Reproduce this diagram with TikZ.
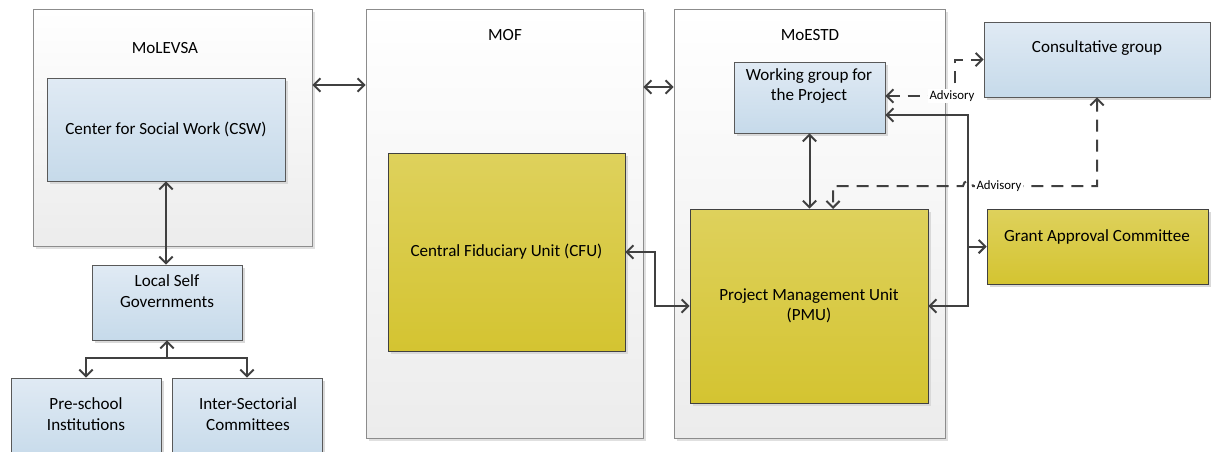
\documentclass[tikz,border=0pt]{standalone}
\usepackage{fontspec}
\setmainfont{Carlito}
\usetikzlibrary{arrows.meta,shadows,calc}
\definecolor{blueTop}{HTML}{E0EAF4}
\definecolor{blueBot}{HTML}{C6DAEA}
\definecolor{yelTop}{HTML}{DED15C}
\definecolor{yelBot}{HTML}{D4C431}
\definecolor{orgBot}{HTML}{ECECEC}
\definecolor{lineGray}{HTML}{404040}
\begin{document}
\begin{tikzpicture}[x=0.75pt,y=0.75pt,yscale=-1,xscale=1,
  every node/.style={font=\fontsize{12.8}{15.2}\selectfont},
  org/.style={draw=black!45, top color=white, bottom color=orgBot, inner sep=0pt,
    general shadow={fill=black!12, shadow xshift=2pt, shadow yshift=-2pt}},
  unit/.style={draw=black!65, top color=blueTop, bottom color=blueBot, inner sep=0pt, align=center,
    general shadow={fill=black!15, shadow xshift=2.2pt, shadow yshift=-2.2pt}},
  fund/.style={draw=black!75, top color=yelTop, bottom color=yelBot, inner sep=0pt, align=center,
    general shadow={fill=black!15, shadow xshift=2.2pt, shadow yshift=-2.2pt}},
  txt/.style={inner sep=0pt, align=center},
  link/.style={draw=lineGray, line width=1.5pt, arrows={-}, >={Straight Barb[length=5pt,width=10pt]}},
  adv/.style={link, dash pattern=on 9pt off 6pt},
  advtag/.style={fill=white, inner sep=1pt, font=\fontsize{9.6}{11}\selectfont}
  ]
\useasboundingbox (0,0) rectangle (1211,451);

\node[org, minimum width=209.25pt, minimum height=177.75pt] (molevsa) at (172.5,127.5) {};
\node[org, minimum width=207.75pt, minimum height=321.75pt] (mof) at (504.5,223.5) {};
\node[org, minimum width=203.25pt, minimum height=321.75pt] (moestd) at (809.5,223.5) {};
\node[txt] (molevsa-t) at (165,48) {MoLEVSA};
\node[txt] (mof-t) at (505,35) {MOF};
\node[txt] (moestd-t) at (810,35) {MoESTD};

\node[unit, minimum width=178.5pt, minimum height=77.25pt] (csw) at (166,129.5) {Center for Social Work (CSW)};
\node[unit, minimum width=112.5pt, minimum height=56.25pt] (lsg) at (167,302.5) {};
\node[txt] (lsg-t) at (167,291) {Local Self\\Governments};
\node[unit, minimum width=112.5pt, minimum height=63pt] (pre) at (86,420) {};
\node[txt] (pre-t) at (86,414) {Pre-school\\Institutions};
\node[unit, minimum width=112.5pt, minimum height=63pt] (isc) at (247,420) {};
\node[txt] (isc-t) at (248,414) {Inter-Sectorial\\Committees};

\node[fund, minimum width=177.75pt, minimum height=148.5pt] (cfu) at (506.5,252) {Central Fiduciary Unit (CFU)};
\node[unit, minimum width=113.25pt, minimum height=53.25pt] (wg) at (809.5,97.5) {};
\node[txt] (wg-t) at (809,86) {Working group for\\the Project};
\node[fund, minimum width=178.5pt, minimum height=145.5pt] (pmu) at (809,306) {Project Management Unit\\(PMU)};
\node[unit, minimum width=169.5pt, minimum height=56.25pt] (cons) at (1097,59.5) {};
\node[txt] (cons-t) at (1097,48) {Consultative group};
\node[fund, minimum width=165.75pt, minimum height=56.25pt] (gac) at (1097.5,246.5) {};
\node[txt] (gac-t) at (1097,237) {Grant Approval Committee};

\coordinate (top1) at (0,85);
\coordinate (top2) at (0,87);
\coordinate (fork) at (167,358);
\coordinate (adv1) at (955,96);
\coordinate (adv2) at (1097,186);
\coordinate (bus) at (968,115);

\draw[link,<->] (molevsa.east |- top1) -- (mof.west |- top1);
\draw[link,<->] (mof.east |- top2) -- (moestd.west |- top2);
\draw[link,<->] (csw.south) -- (csw.south |- lsg.north);
\draw[link,->] (fork) -- (lsg.south);
\draw[link,<->] (pre.north) |- (fork) -| (isc.north);
\draw[link,<->] (cfu.east) -| ($(cfu.east)!0.46!(pmu.west)$) |- (pmu.west);
\draw[link,<->] (wg.south) -- (wg.south |- pmu.north);
\draw[link,<->] (wg.east |- bus) -- (bus) |- (pmu.east);
\draw[link,->] (bus |- gac.west) -- (gac.west);

\draw[adv,<->] (wg.east |- adv1) -- (adv1) |- (cons.west);
\draw[adv,<->] (cons.south) -- (adv2) -- (973,186) arc[start angle=0, end angle=-180, radius=5] -- (833,186) -- (833,209);
\node[advtag] (adv1-t) at (952,96) {Advisory};
\node[advtag] (adv2-t) at (999,186) {Advisory};
\end{tikzpicture}
\end{document}
